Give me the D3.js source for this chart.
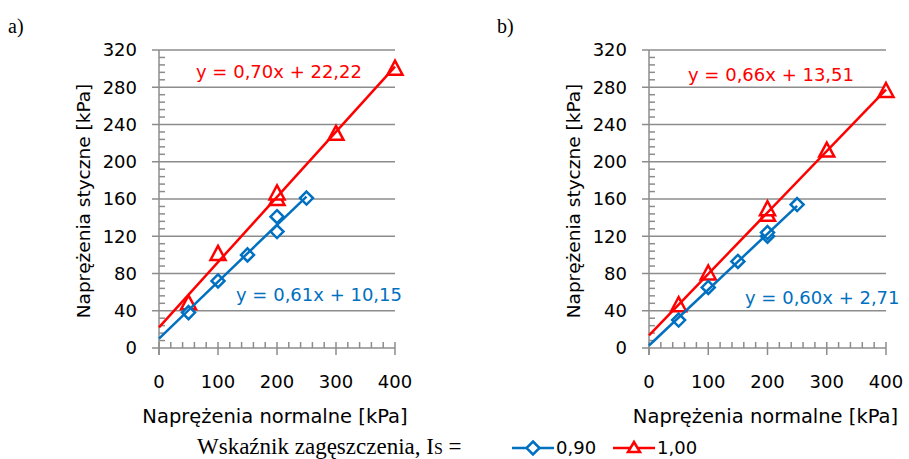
<!DOCTYPE html>
<html>
<head>
<meta charset="utf-8">
<script src="https://cdn.jsdelivr.net/npm/d3@7"></script>
<style>
  body { margin: 0; background: #fff; }
  svg { display: block; }
</style>
</head>
<body>
<svg id="chart"></svg>
<script>
const width = 909, height = 459;

// data
const xTicks = [0, 100, 200, 300, 400];
const yTicks = [0, 40, 80, 120, 160, 200, 240, 280, 320];

const aBlueX = [50, 100, 150, 200, 200, 250];
const aBlueY = [38, 72, 100, 125, 141, 161];
const aRedX = [50, 100, 200, 200, 300, 400];
const aRedY = [48, 101, 160, 166, 230, 300];

const bBlueX = [50, 100, 150, 200, 200, 250];
const bBlueY = [30, 65, 93, 120, 124, 154];
const bRedX = [50, 100, 200, 200, 300, 400];
const bRedY = [46, 80, 143, 149, 212, 276];

// trend lines: slope, intercept, x end
const aBlueFit = [0.61, 10.15, 250];
const aRedFit = [0.70, 22.22, 400];
const bBlueFit = [0.60, 2.71, 250];
const bRedFit = [0.66, 13.51, 400];

const aLabels = ['y = 0,61x + 10,15', 'y = 0,70x + 22,22'];
const bLabels = ['y = 0,60x + 2,71', 'y = 0,66x + 13,51'];
const legendNames = ['0,90', '1,00'];

const blue = '#0070C0', red = '#FF0000', grid = '#8c8c8c';
const font = '"DejaVu Sans", sans-serif';
const fs = '18px';

const svg = d3.select('#chart').attr('width', width).attr('height', height);

function diamond(g, cx, cy) {
  g.append('path')
    .attr('d', `M${cx},${cy - 6.5}L${cx + 6.5},${cy}L${cx},${cy + 6.5}L${cx - 6.5},${cy}Z`)
    .attr('fill', '#fff').attr('stroke', blue).attr('stroke-width', 2.5);
}
function triangle(g, cx, cy) {
  g.append('path')
    .attr('d', `M${cx},${cy - 8}L${cx + 7.5},${cy + 6}L${cx - 7.5},${cy + 6}Z`)
    .attr('fill', '#fff').attr('stroke', red).attr('stroke-width', 2.5);
}

function drawPanel(opt) {
  const x = d3.scaleLinear().domain([0, 400]).range([opt.x0, opt.x1]);
  const y = d3.scaleLinear().domain([0, 320]).range([348, 50]);
  const g = svg.append('g');

  // letter
  g.append('text').attr('x', opt.letterX).attr('y', 33)
    .style('font-family', '"Liberation Serif", serif').style('font-size', '20px')
    .text(opt.letter);

  // gridlines
  g.selectAll('line.grid').data(yTicks.filter(d => d > 0)).enter().append('line')
    .attr('x1', x(0) - 7).attr('x2', x(400))
    .attr('y1', d => y(d)).attr('y2', d => y(d))
    .attr('stroke', grid).attr('stroke-width', 1.5);

  // y minor ticks
  g.selectAll('line.ymin').data(d3.range(0, 321, 8).filter(d => d % 40 !== 0)).enter().append('line')
    .attr('x1', x(0)).attr('x2', x(0) + 6)
    .attr('y1', d => y(d)).attr('y2', d => y(d))
    .attr('stroke', grid).attr('stroke-width', 1.5);

  // x minor ticks
  g.selectAll('line.xmin').data(d3.range(0, 401, 20).filter(d => d % 100 !== 0)).enter().append('line')
    .attr('x1', d => x(d)).attr('x2', d => x(d))
    .attr('y1', y(0)).attr('y2', y(0) - 6)
    .attr('stroke', grid).attr('stroke-width', 1.5);

  // x major ticks
  g.selectAll('line.xmaj').data(xTicks).enter().append('line')
    .attr('x1', d => x(d)).attr('x2', d => x(d))
    .attr('y1', y(0) - 6).attr('y2', y(0) + 7)
    .attr('stroke', grid).attr('stroke-width', 1.5);

  // axes lines
  g.append('line').attr('x1', x(0) - 7).attr('x2', x(400)).attr('y1', y(0)).attr('y2', y(0))
    .attr('stroke', grid).attr('stroke-width', 1.5);
  g.append('line').attr('x1', x(0)).attr('x2', x(0)).attr('y1', y(320)).attr('y2', y(0) + 7)
    .attr('stroke', grid).attr('stroke-width', 1.5);

  // tick labels
  g.selectAll('text.yt').data(yTicks).enter().append('text')
    .attr('x', x(0) - 22).attr('y', d => y(d)).attr('dy', '0.36em')
    .attr('text-anchor', 'end')
    .style('font-family', font).style('font-size', fs).attr('fill', '#000')
    .text(d => d);
  g.selectAll('text.xt').data(xTicks).enter().append('text')
    .attr('x', d => x(d)).attr('y', 382).attr('dy', '0.36em')
    .attr('text-anchor', 'middle')
    .style('font-family', font).style('font-size', fs)
    .text(d => d);

  // axis titles
  g.append('text').attr('x', (x(0) + x(400)) / 2 - 2).attr('y', 416).attr('dy', '0.36em')
    .attr('text-anchor', 'middle')
    .style('font-family', font).style('font-size', '19.5px')
    .text('Naprężenia normalne [kPa]');
  g.append('text')
    .attr('transform', `translate(${opt.x0 - 76},201) rotate(-90)`)
    .attr('dy', '0.36em').attr('text-anchor', 'middle')
    .style('font-family', font).style('font-size', '18.5px')
    .text('Naprężenia styczne [kPa]');

  // markers
  opt.redX.forEach((v, i) => triangle(g, x(v), y(opt.redY[i])));
  opt.blueX.forEach((v, i) => diamond(g, x(v), y(opt.blueY[i])));

  // trend lines
  [[opt.redFit, red], [opt.blueFit, blue]].forEach(([f, c]) => {
    g.append('line')
      .attr('x1', x(0)).attr('y1', y(f[1]))
      .attr('x2', x(f[2])).attr('y2', y(f[0] * f[2] + f[1]))
      .attr('stroke', c).attr('stroke-width', 2.5);
  });

  // equations
  g.append('text').attr('x', opt.redLab[0]).attr('y', opt.redLab[1]).attr('dy', '0.36em')
    .style('font-family', font).style('font-size', fs).attr('fill', red)
    .text(opt.labels[1]);
  g.append('text').attr('x', opt.blueLab[0]).attr('y', opt.blueLab[1]).attr('dy', '0.36em')
    .style('font-family', font).style('font-size', fs).attr('fill', blue)
    .text(opt.labels[0]);
}

drawPanel({
  letter: 'a)', letterX: 8, x0: 159, x1: 395,
  blueX: aBlueX, blueY: aBlueY, redX: aRedX, redY: aRedY,
  blueFit: aBlueFit, redFit: aRedFit, labels: aLabels,
  redLab: [196, 72], blueLab: [236, 295]
});
drawPanel({
  letter: 'b)', letterX: 497, x0: 649, x1: 886,
  blueX: bBlueX, blueY: bBlueY, redX: bRedX, redY: bRedY,
  blueFit: bBlueFit, redFit: bRedFit, labels: bLabels,
  redLab: [688, 75], blueLab: [745, 298]
});

// legend
const leg = svg.append('g');
const title = leg.append('text').attr('x', 197).attr('y', 454)
  .style('font-family', '"Liberation Serif", serif').style('font-size', '23px');
title.append('tspan').text('Wskaźnik zagęszczenia, I');
title.append('tspan').style('font-size', '16px').text('S');
title.append('tspan').text(' =');

[[512, blue], [613, red]].forEach(([lx, c], i) => {
  leg.append('line').attr('x1', lx).attr('x2', lx + 42).attr('y1', 448).attr('y2', 448)
    .attr('stroke', c).attr('stroke-width', 2.5);
  if (i === 0) diamond(leg, lx + 21, 448);
  else {
    leg.append('path')
      .attr('d', `M${lx + 21},${442}L${lx + 27},${452}L${lx + 15},${452}Z`)
      .attr('fill', '#fff').attr('stroke', red).attr('stroke-width', 2.5);
  }
  leg.append('text').attr('x', lx + 44).attr('y', 448).attr('dy', '0.36em')
    .style('font-family', font).style('font-size', fs)
    .text(legendNames[i]);
});
</script>
</body>
</html>
